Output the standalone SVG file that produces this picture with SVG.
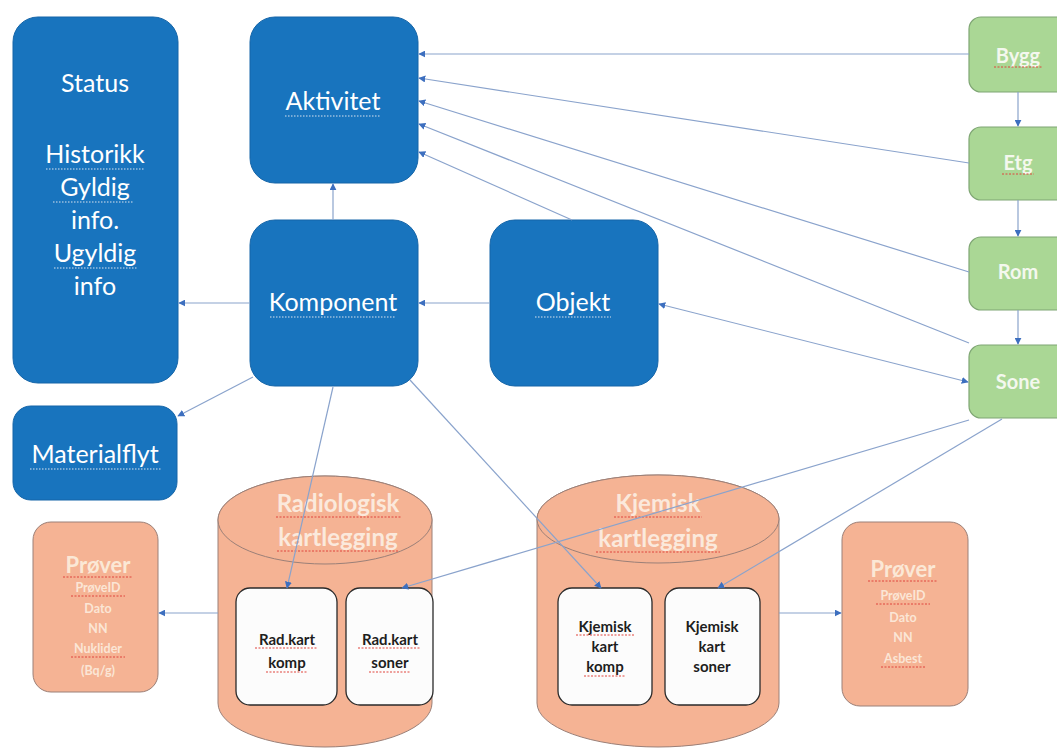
<svg xmlns="http://www.w3.org/2000/svg" width="1057" height="751" viewBox="0 0 1057 751">
  <defs>
    <marker id="ah" viewBox="0 0 10 10" refX="9" refY="5" markerWidth="7" markerHeight="7" orient="auto-start-reverse" markerUnits="userSpaceOnUse">
      <path d="M0,0 L10,5 L0,10 z" fill="#3d6fbf"/>
    </marker>
    <style>
      .blue { fill: #1874be; stroke: #1565a8; stroke-width: 1; }
      .green { fill: #aad795; stroke: #7fa674; stroke-width: 1.2; }
      .salmon { fill: #f5b394; stroke: #9b8078; stroke-width: 1; }
      .inner { fill: #fcfcfc; stroke: #2a2a2a; stroke-width: 1.3; }
      .tb { font-family: Lato, "Open Sans", sans-serif; font-size: 25px; fill: #ffffff; text-anchor: middle; }
      .tg { font-family: Lato, "Open Sans", sans-serif; font-size: 20px; font-weight: bold; fill: #f4f8ee; text-anchor: middle; }
      .tc { font-family: Lato, "Open Sans", sans-serif; font-size: 24px; font-weight: bold; fill: #fbe9dc; text-anchor: middle; }
      .ti { font-family: Lato, "Open Sans", sans-serif; font-size: 15px; font-weight: bold; fill: #1e1e1e; text-anchor: middle; }
      .tp { font-family: Lato, "Open Sans", sans-serif; font-size: 22px; font-weight: bold; fill: #fbe8d6; text-anchor: middle; }
      .ts { font-family: Lato, "Open Sans", sans-serif; font-size: 12.5px; font-weight: bold; fill: #fbe6d6; text-anchor: middle; }
      .edge { fill: none; stroke: #8aa3cc; stroke-width: 1.2; marker-end: url(#ah); }
      .both { marker-start: url(#ah); }
      .sq { fill: none; stroke: #e0443c; stroke-width: 1; stroke-dasharray: 2 1.5; }
      .sqw { fill: none; stroke: #d8e2ee; stroke-width: 1; stroke-dasharray: 1.5 1.5; }
    </style>
  </defs>

  <rect width="1057" height="751" fill="#ffffff"/>

  <!-- blue entity boxes -->
  <g id="status">
    <rect class="blue" x="13" y="17" width="165" height="366" rx="25"/>
    <text class="tb" x="95" y="92">Status</text>
    <text class="tb" x="95" y="163">Historikk</text>
    <text class="tb" x="95" y="196">Gyldig</text>
    <text class="tb" x="95" y="229">info.</text>
    <text class="tb" x="95" y="262">Ugyldig</text>
    <text class="tb" x="95" y="295">info</text>
    <path class="sqw" d="M46,169 H145 M53,202 H133 M54,268 H138"/>
  </g>

  <g id="aktivitet">
    <rect class="blue" x="250" y="17" width="168" height="166" rx="25"/>
    <text class="tb" x="333" y="110">Aktivitet</text>
    <path class="sqw" d="M285,116 H381"/>
  </g>

  <g id="komponent">
    <rect class="blue" x="250" y="220" width="168" height="166" rx="25"/>
    <text class="tb" x="333" y="311">Komponent</text>
    <path class="sqw" d="M270,317 H396"/>
  </g>

  <g id="objekt">
    <rect class="blue" x="490" y="220" width="168" height="166" rx="25"/>
    <text class="tb" x="573" y="311">Objekt</text>
    <path class="sqw" d="M535,317 H611"/>
  </g>

  <g id="materialflyt">
    <rect class="blue" x="13" y="406" width="164" height="94" rx="18"/>
    <text class="tb" x="95" y="463">Materialflyt</text>
    <path class="sqw" d="M30,469 H161"/>
  </g>

  <!-- green location hierarchy -->
  <g id="bygg">
    <rect class="green" x="969" y="17" width="100" height="75" rx="12"/>
    <text class="tg" x="1018" y="63">Bygg</text>
    <path class="sq" d="M994,67 H1042"/>
  </g>
  <g id="etg">
    <rect class="green" x="969" y="127" width="100" height="73" rx="12"/>
    <text class="tg" x="1018" y="170">Etg</text>
    <path class="sq" d="M1002,174 H1034"/>
  </g>
  <g id="rom">
    <rect class="green" x="969" y="237" width="100" height="73" rx="12"/>
    <text class="tg" x="1018" y="279">Rom</text>
  </g>
  <g id="sone">
    <rect class="green" x="969" y="345" width="100" height="73" rx="12"/>
    <text class="tg" x="1018" y="389">Sone</text>
  </g>

  <!-- radiological survey store -->
  <g id="radiologisk">
    <path class="salmon" d="M218,520 V703 A107,44 0 0 0 432,703 V520 A107,44 0 0 0 218,520 Z"/>
    <ellipse class="salmon" cx="325" cy="520" rx="107" ry="44"/>
    <text class="tc" x="338" y="512">Radiologisk</text>
    <text class="tc" x="338" y="546">kartlegging</text>
    <path class="sq" d="M276,517 H401 M277,551 H399"/>
  </g>
  <g id="radkart-komp">
    <rect class="inner" x="236" y="588" width="101" height="117" rx="14"/>
    <text class="ti" x="287" y="645">Rad.kart</text>
    <text class="ti" x="287" y="668">komp</text>
    <path class="sq" d="M255,648 H318 M266,672 H308"/>
  </g>
  <g id="radkart-soner">
    <rect class="inner" x="346" y="588" width="87" height="117" rx="14"/>
    <text class="ti" x="390" y="645">Rad.kart</text>
    <text class="ti" x="390" y="668">soner</text>
    <path class="sq" d="M358,648 H421 M369,672 H411"/>
  </g>

  <!-- chemical survey store -->
  <g id="kjemisk">
    <path class="salmon" d="M537,519 V703 A121,44 0 0 0 779,703 V519 A121,44 0 0 0 537,519 Z"/>
    <ellipse class="salmon" cx="658" cy="519" rx="121" ry="44"/>
    <text class="tc" x="658" y="512">Kjemisk</text>
    <text class="tc" x="658" y="547">kartlegging</text>
    <path class="sq" d="M614,517 H702 M596,552 H720"/>
  </g>
  <g id="kjemisk-komp">
    <rect class="inner" x="558" y="588" width="94" height="117" rx="14"/>
    <text class="ti" x="605" y="632">Kjemisk</text>
    <text class="ti" x="605" y="652">kart</text>
    <text class="ti" x="605" y="672">komp</text>
    <path class="sq" d="M576,635 H634 M584,676 H626"/>
  </g>
  <g id="kjemisk-soner">
    <rect class="inner" x="665" y="588" width="95" height="117" rx="14"/>
    <text class="ti" x="712" y="632">Kjemisk</text>
    <text class="ti" x="712" y="652">kart</text>
    <text class="ti" x="712" y="672">soner</text>
  </g>

  <!-- sample records -->
  <g id="prover-rad">
    <rect class="salmon" x="33" y="522" width="125" height="170" rx="18"/>
    <text class="tp" x="98" y="573">Prøver</text>
    <text class="ts" x="98" y="592">PrøveID</text>
    <text class="ts" x="98" y="613">Dato</text>
    <text class="ts" x="98" y="633">NN</text>
    <text class="ts" x="98" y="653">Nuklider</text>
    <text class="ts" x="98" y="675">(Bq/g)</text>
    <path class="sq" d="M63,577 H133 M71,596 H125 M71,657 H125"/>
  </g>
  <g id="prover-kjem">
    <rect class="salmon" x="842" y="522" width="126" height="184" rx="18"/>
    <text class="tp" x="903" y="577">Prøver</text>
    <text class="ts" x="903" y="600">PrøveID</text>
    <text class="ts" x="903" y="622">Dato</text>
    <text class="ts" x="903" y="642">NN</text>
    <text class="ts" x="903" y="663">Asbest</text>
    <path class="sq" d="M868,581 H938 M876,604 H930 M881,667 H925"/>
  </g>

  <!-- connectors -->
  <g id="connectors">
    <line class="edge" x1="969" y1="54" x2="419" y2="54"/>
    <line class="edge" x1="969" y1="163" x2="419" y2="78"/>
    <line class="edge" x1="969" y1="272" x2="419" y2="101"/>
    <line class="edge" x1="969" y1="343" x2="419" y2="124"/>
    <line class="edge" x1="572" y1="220" x2="419" y2="152"/>
    <line class="edge" x1="333" y1="220" x2="333" y2="184"/>
    <line class="edge" x1="250" y1="303" x2="179" y2="303"/>
    <line class="edge" x1="490" y1="303" x2="419" y2="303"/>
    <line class="edge" x1="253" y1="377" x2="178" y2="416"/>
    <line class="edge both" x1="659" y1="304" x2="968" y2="382"/>
    <line class="edge" x1="333" y1="387" x2="287" y2="588"/>
    <line class="edge" x1="410" y1="380" x2="601" y2="588"/>
    <line class="edge" x1="969" y1="420" x2="402" y2="588"/>
    <line class="edge" x1="1002" y1="419" x2="718" y2="588"/>
    <line class="edge" x1="218" y1="613" x2="159" y2="613"/>
    <line class="edge" x1="779" y1="613" x2="841" y2="613"/>
    <line class="edge" x1="1018" y1="92" x2="1018" y2="126"/>
    <line class="edge" x1="1018" y1="200" x2="1018" y2="236"/>
    <line class="edge" x1="1018" y1="310" x2="1018" y2="344"/>
  </g>
</svg>
